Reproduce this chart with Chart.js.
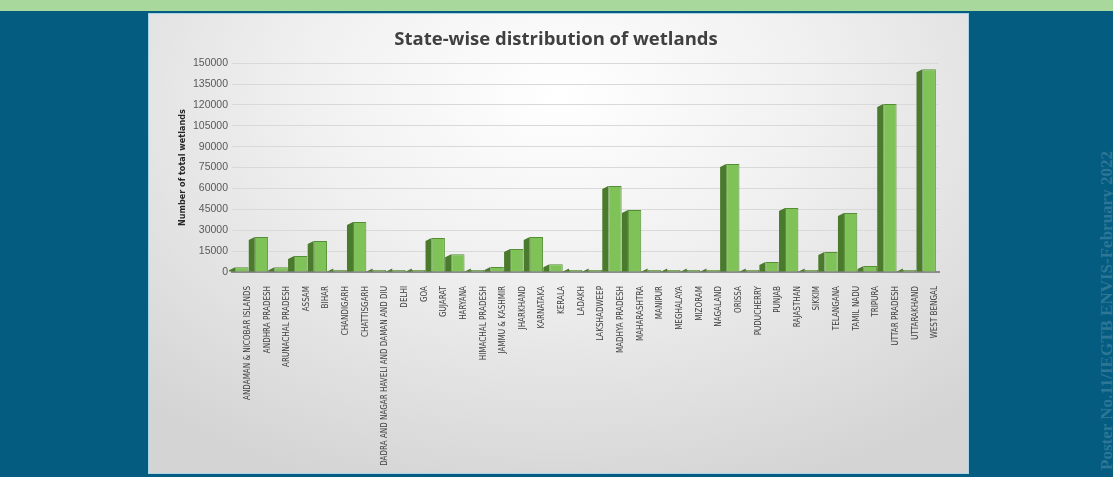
<!DOCTYPE html>
<html>
<head>
<meta charset="utf-8">
<script src="https://cdn.jsdelivr.net/npm/chart.js@4"></script>
<style>
  body { margin: 0; width: 1113px; height: 477px; background: #045c80; overflow: hidden; position: relative; font-family: 'Liberation Sans', sans-serif; }
  #banner { position: absolute; left: 0; top: 0; width: 1113px; height: 11px; background: #a8d89c; }
  #panel { position: absolute; left: 149px; top: 14px; width: 819px; height: 459px;
    background: radial-gradient(ellipse 75% 90% at 50% 18%, #ffffff 0%, #f1f1f1 40%, #d4d4d4 100%);
    box-shadow: 0 0 0 1px #a9d3e6; }
  #stamp { position: absolute; left: 1097px; top: 130px; height: 340px; writing-mode: vertical-rl; transform: rotate(180deg);
    font: bold 17px 'Liberation Serif', serif; color: #2d7696; white-space: nowrap; }
</style>
</head>
<body>
<div id="banner"></div>
<div id="panel"><canvas id="wetlands" width="819" height="459"></canvas></div>
<div id="stamp">Poster No.11/IEGTB ENVIS-February 2022</div>
<script>
const states = ['ANDAMAN & NICOBAR ISLANDS', 'ANDHRA PRADESH', 'ARUNACHAL PRADESH', 'ASSAM', 'BIHAR', 'CHANDIGARH',
    'CHATTISGARH', 'DADRA AND NAGAR HAVELI AND DAMAN AND DIU', 'DELHI', 'GOA', 'GUJARAT', 'HARYANA',
    'HIMACHAL PRADESH', 'JAMMU & KASHMIR', 'JHARKHAND', 'KARNATAKA', 'KERALA', 'LADAKH', 'LAKSHADWEEP',
    'MADHYA PRADESH', 'MAHARASHTRA', 'MANIPUR', 'MEGHALAYA', 'MIZORAM', 'NAGALAND', 'ORISSA', 'PUDUCHERRY',
    'PUNJAB', 'RAJASTHAN', 'SIKKIM', 'TELANGANA', 'TAMIL NADU', 'TRIPURA', 'UTTAR PRADESH', 'UTTARAKHAND',
    'WEST BENGAL'];
const wetlands = [3500, 25200, 3500, 11500, 22200, 600, 36000, 600, 700, 700, 24400, 12800,
    1500, 3600, 16500, 25100, 5500, 1500, 800, 61700, 44500, 1200, 1000, 1000, 1000, 77500, 1000,
    7200, 46000, 800, 14400, 42300, 4300, 120600, 1500, 145700];
const yTicks = [0, 15000, 30000, 45000, 60000, 75000, 90000, 105000, 120000, 135000, 150000];

const narrow = "'Liberation Sans Narrow', 'DejaVu Sans Condensed', 'Roboto Condensed', sans-serif";

// dark left face of each column, to fake the 3D look
const sideFaces = {
    id: 'sideFaces',
    beforeDatasetsDraw(chart) {
        const ctx = chart.ctx;
        const depth = 6;
        ctx.save();
        chart.getDatasetMeta(0).data.forEach(bar => {
            const left = bar.x - bar.width / 2;
            const top = Math.min(bar.y, bar.base - 3);
            ctx.fillStyle = '#4a7a2c';
            ctx.beginPath();
            ctx.moveTo(left, top);
            ctx.lineTo(left - depth, top + 3);
            ctx.lineTo(left - depth, bar.base);
            ctx.lineTo(left, bar.base);
            ctx.closePath();
            ctx.fill();
        });
        ctx.restore();
    }
};

new Chart('wetlands', {
    type: 'bar',
    data: {
        labels: states,
        datasets: [{
            data: wetlands,
            backgroundColor: '#7fc258',
            borderColor: '#558f35',
            borderWidth: 1,
            barPercentage: 0.68,
            categoryPercentage: 1,
            minBarLength: 2
        }]
    },
    options: {
        responsive: false,
        animation: false,
        layout: { padding: { left: 24, right: 29, top: 0, bottom: 6 } },
        plugins: {
            legend: { display: false },
            tooltip: { enabled: false },
            title: {
                display: true,
                text: 'State-wise distribution of wetlands',
                color: '#404040',
                font: { family: "'Open Sans', sans-serif", size: 18.5, weight: 'bold' },
                padding: { top: 15, bottom: 12 }
            }
        },
        scales: {
            x: {
                grid: { display: false },
                border: { color: '#8c8c8c', width: 2 },
                ticks: {
                    autoSkip: false, maxRotation: 90, minRotation: 90,
                    labelOffset: 6, padding: 6,
                    color: '#404040',
                    font: { family: narrow, size: 8 }
                },
                afterFit(scale) { scale.height = 195; }
            },
            y: {
                min: 0, max: 150000,
                afterBuildTicks(scale) { scale.ticks = yTicks.map(v => ({ value: v })); },
                grid: { color: '#d9d9d9', drawTicks: false },
                border: { display: false },
                ticks: {
                    padding: 4, color: '#595959',
                    font: { family: "'Liberation Sans', sans-serif", size: 10.5 },
                    callback: v => String(v)
                },
                title: {
                    display: true,
                    text: 'Number of total wetlands',
                    color: '#262626',
                    font: { family: narrow, size: 9, weight: 'bold' },
                    padding: { top: 4, bottom: 0 }
                },
                afterFit(scale) { scale.width = 59; }
            }
        }
    },
    plugins: [sideFaces]
});
</script>
</body>
</html>
